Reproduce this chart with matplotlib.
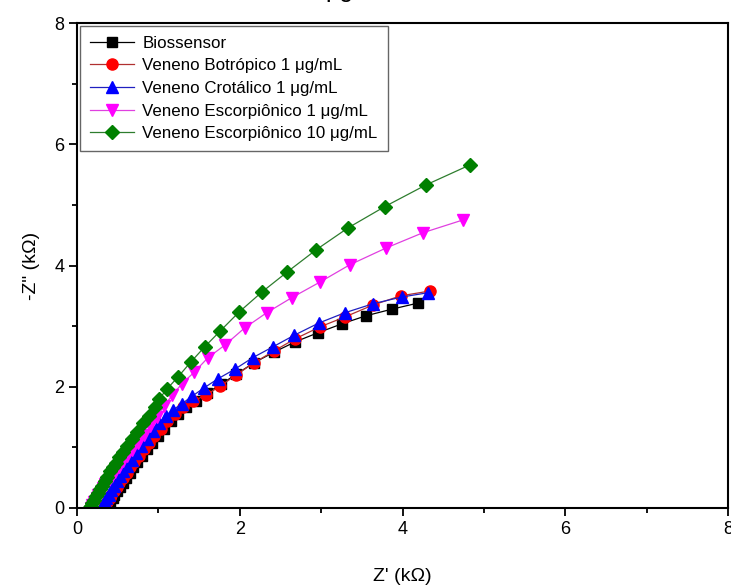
import matplotlib
matplotlib.use("Agg")
import matplotlib.pyplot as plt
from matplotlib.ticker import MultipleLocator

plt.rcParams['font.family'] = ['Liberation Sans', 'DejaVu Sans']

labels = ["Biossensor", "Veneno Botrópico 1 μg/mL", "Veneno Crotálico 1 μg/mL",
          "Veneno Escorpiônico 1 μg/mL", "Veneno Escorpiônico 10 μg/mL"]

bio_x = [0.37, 0.39, 0.41, 0.44, 0.46, 0.49, 0.53, 0.56, 0.60, 0.65, 0.69, 0.74, 0.80, 0.86,
         0.92, 0.99, 1.07, 1.15, 1.24, 1.34, 1.46, 1.60, 1.77, 1.96, 2.18, 2.42, 2.68, 2.96,
         3.26, 3.55, 3.87, 4.19]
bio_y = [0.00, 0.05, 0.10, 0.16, 0.22, 0.28, 0.35, 0.42, 0.50, 0.58, 0.67, 0.76, 0.86, 0.97,
         1.08, 1.19, 1.31, 1.43, 1.55, 1.66, 1.77, 1.90, 2.04, 2.21, 2.40, 2.57, 2.74, 2.89,
         3.04, 3.17, 3.28, 3.38]

bot_x = [0.33, 0.35, 0.37, 0.40, 0.42, 0.45, 0.49, 0.52, 0.56, 0.61, 0.65, 0.70, 0.76, 0.82,
         0.88, 0.95, 1.03, 1.11, 1.20, 1.30, 1.42, 1.58, 1.76, 1.95, 2.17, 2.42, 2.68, 2.99,
         3.29, 3.64, 3.98, 4.34]
bot_y = [0.00, 0.05, 0.10, 0.16, 0.22, 0.28, 0.35, 0.42, 0.50, 0.58, 0.67, 0.76, 0.86, 0.97,
         1.08, 1.19, 1.31, 1.43, 1.55, 1.66, 1.76, 1.86, 2.01, 2.19, 2.39, 2.59, 2.79, 2.99,
         3.15, 3.35, 3.50, 3.58]

cro_x = [0.30, 0.32, 0.34, 0.36, 0.39, 0.42, 0.45, 0.49, 0.53, 0.57, 0.62, 0.67, 0.73, 0.79,
         0.86, 0.93, 1.01, 1.09, 1.18, 1.29, 1.41, 1.56, 1.73, 1.94, 2.16, 2.41, 2.67, 2.97,
         3.29, 3.64, 3.99, 4.31]
cro_y = [0.00, 0.05, 0.10, 0.16, 0.22, 0.29, 0.36, 0.44, 0.52, 0.61, 0.70, 0.80, 0.91, 1.02,
         1.14, 1.27, 1.40, 1.52, 1.62, 1.72, 1.84, 1.98, 2.13, 2.29, 2.48, 2.66, 2.85, 3.05,
         3.22, 3.37, 3.48, 3.55]

esc1_x = [0.17, 0.19, 0.21, 0.24, 0.26, 0.29, 0.32, 0.35, 0.39, 0.43, 0.47, 0.52, 0.57, 0.62,
          0.68, 0.75, 0.82, 0.90, 0.98, 1.07, 1.17, 1.29, 1.44, 1.61, 1.82, 2.06, 2.33, 2.64,
          2.99, 3.35, 3.80, 4.25, 4.74]
esc1_y = [0.00, 0.05, 0.10, 0.16, 0.21, 0.27, 0.33, 0.39, 0.46, 0.53, 0.60, 0.68, 0.77, 0.86,
          0.96, 1.07, 1.20, 1.35, 1.50, 1.68, 1.86, 2.05, 2.24, 2.48, 2.69, 2.97, 3.22, 3.47,
          3.73, 4.01, 4.29, 4.54, 4.75]

esc10_x = [0.15, 0.17, 0.19, 0.21, 0.23, 0.26, 0.28, 0.31, 0.34, 0.37, 0.41, 0.44, 0.48, 0.52,
           0.57, 0.62, 0.68, 0.74, 0.81, 0.88, 0.96, 1.01, 1.11, 1.24, 1.40, 1.57, 1.76, 1.99,
           2.27, 2.58, 2.94, 3.33, 3.78, 4.29, 4.83]
esc10_y = [0.00, 0.04, 0.09, 0.14, 0.19, 0.25, 0.31, 0.37, 0.44, 0.51, 0.61, 0.67, 0.75, 0.84,
           0.93, 1.03, 1.14, 1.26, 1.40, 1.52, 1.67, 1.80, 1.97, 2.16, 2.41, 2.66, 2.92, 3.23,
           3.56, 3.89, 4.26, 4.62, 4.97, 5.33, 5.66]

fig = plt.figure(figsize=(7.31, 5.87), dpi=100)
ax = fig.add_axes([77/731, 1 - 508/587, (728-77)/731, (508-23)/587])

series = [
    (bio_x, bio_y, 's', '#000000', '#000000'),
    (bot_x, bot_y, 'o', '#FF0000', '#B03030'),
    (cro_x, cro_y, '^', '#0000FF', '#2020C0'),
    (esc1_x, esc1_y, 'v', '#FF00FF', '#E040E0'),
    (esc10_x, esc10_y, 'D', '#008000', '#2E7D2E'),
]
ms = {'s': 7.2, 'o': 8, '^': 8.8, 'v': 8.8, 'D': 7}
for (xs, ys, m, mc, lc), lab in zip(series, labels):
    ax.plot(xs, ys, color=lc, lw=0.9, marker=m, markersize=ms[m],
            markerfacecolor=mc, markeredgecolor=mc, label=lab)

ax.set_xlim(0, 8)
ax.set_ylim(0, 8)
ax.xaxis.set_major_locator(MultipleLocator(2))
ax.xaxis.set_minor_locator(MultipleLocator(1))
ax.yaxis.set_major_locator(MultipleLocator(2))
ax.yaxis.set_minor_locator(MultipleLocator(1))
ax.tick_params(which='major', direction='out', length=6, width=1.3, labelsize=13,
               top=False, right=False, pad=3)
ax.tick_params(which='minor', direction='out', length=3.5, width=1.3, top=False, right=False)
for s in ax.spines.values():
    s.set_linewidth(1.5)

ax.set_xlabel("Z' (kΩ)", fontsize=14, labelpad=22)
ax.set_ylabel('-Z" (kΩ)', fontsize=14, labelpad=10)

leg = ax.legend(loc='upper left', fontsize=12.2, frameon=True, fancybox=False,
                borderaxespad=0.15, labelspacing=0.45, handlelength=2.6,
                handletextpad=0.5, borderpad=0.6)
leg.get_frame().set_edgecolor('#404040')
leg.get_frame().set_linewidth(1.0)

fig.text(339/731, 1 + 3/587, "μg", fontsize=18, ha='center', va='baseline')

fig.savefig("out.png", dpi=100)
